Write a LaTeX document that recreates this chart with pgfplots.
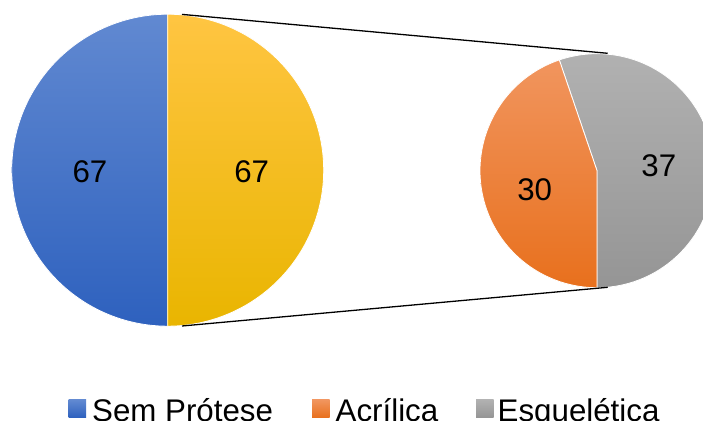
\documentclass[border=0pt]{standalone}
\usepackage{fontspec}
\setmainfont{Liberation Sans}
\usepackage{pgfplots}
\usepackage{pgfplotstable}
\pgfplotsset{compat=1.18}

\definecolor{blueTop}{HTML}{6189D1}
\definecolor{blueBot}{HTML}{2E61BE}
\definecolor{yellowTop}{HTML}{FFC542}
\definecolor{yellowBot}{HTML}{E9B500}
\definecolor{orangeTop}{HTML}{F1955E}
\definecolor{orangeBot}{HTML}{E8701D}
\definecolor{grayTop}{HTML}{B1B1B1}
\definecolor{grayBot}{HTML}{959595}

% número de pacientes por tipo de prótese
\pgfplotstableread{
tipo valor
SemProtese 67
Acrilica 30
Esqueletica 37
}\dados
\pgfplotstablegetelem{0}{valor}\of\dados \let\vSem\pgfplotsretval
\pgfplotstablegetelem{1}{valor}\of\dados \let\vAcr\pgfplotsretval
\pgfplotstablegetelem{2}{valor}\of\dados \let\vEsq\pgfplotsretval
\pgfmathtruncatemacro\vOutros{\vAcr+\vEsq}
\pgfmathsetmacro\totalA{\vSem+\vOutros}
% abertura da fatia "outros", centrada em 0 graus, virada para o segundo disco
\pgfmathsetmacro\halfOut{180*\vOutros/\totalA}
\pgfmathsetmacro\semEnd{360-\halfOut}
% segundo disco: Esquelética a partir das 6 horas, sentido anti-horário
\pgfmathsetmacro\esqEnd{-90+360*\vEsq/\vOutros}

\begin{document}%
\begin{tikzpicture}
\useasboundingbox (0,0) rectangle (703bp,421bp);
\clip (0,0) rectangle (703bp,421bp);
\begin{axis}[
  at={(0,0)}, anchor=origin,
  width=703bp, height=421bp, scale only axis,
  xmin=0, xmax=703, ymin=0, ymax=421,
  hide axis, clip=true,
]
% disco principal
\addplot[shade, top color=blueTop, bottom color=blueBot,
  draw=white, line width=0.8bp, domain=\halfOut:\semEnd, samples=120, variable=\t]
  ({167.7+156*cos(\t)},{250.8+156*sin(\t)}) -- (167.7,250.8) -- cycle;
\addplot[shade, top color=yellowTop, bottom color=yellowBot,
  draw=white, line width=0.8bp, domain=-\halfOut:\halfOut, samples=120, variable=\t]
  ({167.7+156*cos(\t)},{250.8+156*sin(\t)}) -- (167.7,250.8) -- cycle;
% disco secundário
\addplot[shade, top color=grayTop, bottom color=grayBot,
  draw=white, line width=0.8bp, domain=-90:\esqEnd, samples=120, variable=\t]
  ({597+117*cos(\t)},{250.3+117*sin(\t)}) -- (597,250.3) -- cycle;
\addplot[shade, top color=orangeTop, bottom color=orangeBot,
  draw=white, line width=0.8bp, domain=\esqEnd:270, samples=120, variable=\t]
  ({597+117*cos(\t)},{250.3+117*sin(\t)}) -- (597,250.3) -- cycle;
% linhas de ligação
\addplot[black, line width=1.3bp] coordinates {(182,406.6) (607.7,367.7)};
\addplot[black, line width=1.3bp] coordinates {(182,95) (607.7,133.7)};
% rótulos
\begin{scope}[every node/.style={font=\fontsize{31.4}{36}\selectfont, inner sep=0pt}]
\node at (90,249) {\vSem};
\node at (251.7,249) {\vOutros};
\node at (534.7,231) {\vAcr};
\node at (658.8,255) {\vEsq};
% legenda
\path[shade, top color=blueTop, bottom color=blueBot] (68.5,3.5) rectangle (86,21);
\node[anchor=base west] at (92,0) {Sem Prótese};
\path[shade, top color=orangeTop, bottom color=orangeBot] (312,3.5) rectangle (329.5,21);
\node[anchor=base west] at (335.5,0) {Acrílica};
\path[shade, top color=grayTop, bottom color=grayBot] (476,3.5) rectangle (493.5,21);
\node[anchor=base west] at (497.5,0) {Esquelética};
\end{scope}
\end{axis}
\end{tikzpicture}%
\end{document}
